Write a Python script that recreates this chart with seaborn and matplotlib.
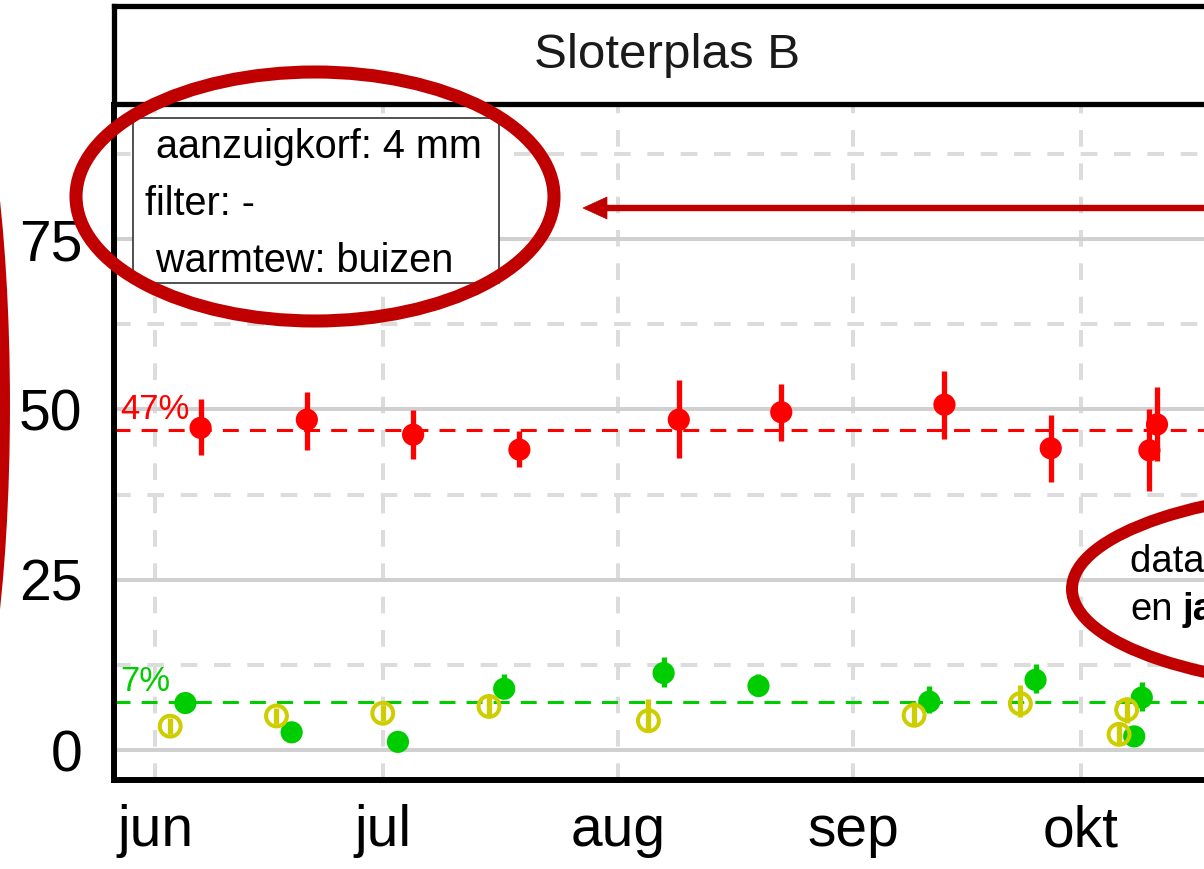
import numpy as np
import pandas as pd
import matplotlib
matplotlib.use("Agg")
import matplotlib.pyplot as plt
import matplotlib.dates as mdates
from matplotlib.ticker import MultipleLocator
from matplotlib.patches import Ellipse, Polygon
from matplotlib.lines import Line2D
from matplotlib.transforms import Affine2D
import seaborn as sns

# ---- data -------------------------------------------------------------
red_dates = ["2019-06-05", "2019-06-19", "2019-07-03", "2019-07-17", "2019-08-07",
             "2019-08-21", "2019-09-11", "2019-09-25", "2019-10-08", "2019-10-09"]
red_values = [47.3, 48.5, 46.3, 44.1, 48.5, 49.6, 50.7, 44.3, 44.0, 47.8]
red_low = [43.3, 44.1, 42.7, 41.5, 42.9, 45.4, 45.6, 39.3, 38.0, 42.4]
red_high = [51.5, 52.6, 49.9, 46.9, 54.3, 53.7, 55.6, 49.2, 50.1, 53.3]

green_dates = red_dates
green_values = [6.9, 2.6, 1.2, 9.0, 11.3, 9.4, 7.1, 10.3, 2.0, 7.7]
green_low = [5.8, 1.4, 0.3, 7.6, 9.2, 8.0, 5.4, 8.4, 1.0, 5.8]
green_high = [8.2, 3.9, 2.2, 11.1, 13.7, 11.1, 9.4, 12.6, 3.0, 10.0]

yellow_dates = ["2019-06-05", "2019-06-19", "2019-07-03", "2019-07-17", "2019-08-07",
                "2019-09-11", "2019-09-25", "2019-10-08", "2019-10-09"]
yellow_values = [3.5, 5.0, 5.4, 6.4, 4.3, 5.1, 6.8, 2.3, 5.9]
yellow_low = [2.3, 3.8, 4.2, 5.0, 3.0, 3.8, 4.8, 1.0, 4.0]
yellow_high = [4.7, 6.2, 6.6, 8.1, 7.5, 7.1, 9.5, 4.0, 7.8]

ref_levels = [47, 7]
ref_labels = ["47%", "7%"]

month_ticks = ["2019-06-01", "2019-07-01", "2019-08-01", "2019-09-01", "2019-10-01"]
month_labels = ["jun", "jul", "aug", "sep", "okt"]
y_ticks = [0, 25, 50, 75]

facet_title = "Sloterplas B"
info_lines = [" aanzuigkorf: 4 mm", "filter: -", " warmtew: buizen"]
note_line1 = "data per monstername"
note_plain = "en"
note_bold = "jaargemiddelde"

# ---- style ------------------------------------------------------------
RED = "#FF0000"
GREEN = "#00CD00"
YELLOW = "#CDCD00"
MARK = "#C00000"
GRID = "#D0D0D0"
series_order = ["geel", "groen", "rood"]
series_colors = {"geel": YELLOW, "groen": GREEN, "rood": RED}

sns.set_theme(style="white")
plt.rcParams["font.family"] = ["Liberation Sans", "DejaVu Sans"]
plt.rcParams["lines.scale_dashes"] = False

# ---- long table with dodge positions ----------------------------------
frames = []
for name, d, v, lo, hi in [
    ("geel", yellow_dates, yellow_values, yellow_low, yellow_high),
    ("groen", green_dates, green_values, green_low, green_high),
    ("rood", red_dates, red_values, red_low, red_high),
]:
    frames.append(pd.DataFrame({"series": name, "date": pd.to_datetime(d),
                                "value": v, "low": lo, "high": hi}))
df = pd.concat(frames, ignore_index=True)

dodge_width = 6.0  # days
offsets = np.zeros(len(df))
for date, grp in df.groupby("date"):
    present = [s for s in series_order if s in set(grp["series"])]
    n = len(present)
    for idx, row in grp.iterrows():
        i = present.index(row["series"])
        offsets[idx] = (i - (n - 1) / 2) * dodge_width / n
df["pos"] = df["date"] + pd.to_timedelta(offsets, unit="D")
df["color"] = df["series"].map(series_colors)

# ---- figure -----------------------------------------------------------
W, H = 1204, 869
fig = plt.figure(figsize=(W / 100, H / 100), dpi=100)
fig.patch.set_facecolor("white")

L, R, T, B = 113.5, 1220.0, 105.0, 780.0
ax = fig.add_axes([L / W, (H - B) / H, (R - L) / W, (B - T) / H])
strip = fig.add_axes([L / W, (H - 104) / H, (R - L) / W, (104 - 6) / H])

ax.set_facecolor("white")
ax.set_axisbelow(True)

# reference levels
for lvl, lab, col in zip(ref_levels, ref_labels, [RED, GREEN]):
    ax.axhline(lvl, color=col, lw=2.2, ls=(0, (11.5, 8.0)), zorder=2)
    ax.text(0.006, lvl + 0.6, lab, transform=ax.get_yaxis_transform(),
            color=col, fontsize=25, ha="left", va="bottom", zorder=3)

# error bars
ax.vlines(mdates.date2num(df["pos"].dt.to_pydatetime()), df["low"], df["high"],
          colors=df["color"], lw=3.8, zorder=3)

# filled points
filled = df[df["series"] != "geel"]
sns.scatterplot(data=filled, x="pos", y="value", hue="series",
                palette={k: series_colors[k] for k in ["groen", "rood"]},
                s=255, linewidth=0, legend=False, ax=ax, zorder=4)
# open points
open_pts = df[df["series"] == "geel"]
sns.scatterplot(data=open_pts, x="pos", y="value", color=YELLOW,
                s=225, legend=False, ax=ax, zorder=4)
coll = ax.collections[-1]
coll.set_facecolor("none")
coll.set_edgecolor(YELLOW)
coll.set_linewidth(2.9)

# axes scales
x0 = pd.Timestamp(month_ticks[0]) - pd.Timedelta(days=5.47)
x1 = pd.Timestamp(month_ticks[-1]) + pd.Timedelta(days=18.3)
ax.set_xlim(x0, x1)
ax.set_ylim(-4.4, 94.7)
ax.set_xticks(pd.to_datetime(month_ticks))
ax.set_xticklabels(month_labels)
ax.set_yticks(y_ticks)
ax.set_yticklabels([str(v) for v in y_ticks])
ax.yaxis.set_minor_locator(MultipleLocator(12.5))
ax.set_xlabel("")
ax.set_ylabel("")

ax.yaxis.grid(True, which="major", color=GRID, lw=2.9, ls="-")
ax.yaxis.grid(True, which="minor", color="#DCDCDC", lw=2.9, ls=(0, (12.0, 12.0)))
ax.xaxis.grid(True, which="major", color="#DCDCDC", lw=2.9, ls=(0, (12.0, 12.0)))

ax.tick_params(axis="both", which="major", length=12.5, width=4.3, color="black",
               labelsize=41, labelcolor="black")
ax.tick_params(axis="y", which="major", pad=10)
ax.tick_params(axis="x", which="major", pad=5)
ax.tick_params(which="minor", length=0)
for side in ["top", "right"]:
    ax.spines[side].set_visible(False)
for side in ["left", "bottom"]:
    ax.spines[side].set_color("black")
    ax.spines[side].set_linewidth(4.3)
    ax.spines[side].set_capstyle("projecting")

# info label
ax.add_patch(plt.Rectangle((0.0175, 0.7363), 0.3310, 0.2444, transform=ax.transAxes,
                           facecolor="white", edgecolor="#222222", lw=1.1, zorder=5))
for i, line in enumerate(info_lines):
    ax.text(0.0285, 0.922 - i * 0.0848, line, transform=ax.transAxes,
            fontsize=28.5, color="black", ha="left", va="baseline", zorder=6)

# facet strip
strip.set_facecolor("white")
strip.set_xticks([])
strip.set_yticks([])
for sp in strip.spines.values():
    sp.set_color("black")
    sp.set_linewidth(3.8)
strip.text(0.5, 0.5, facet_title, transform=strip.transAxes, ha="center",
           va="center", fontsize=35.5, color="#1A1A1A")

# ---- highlight marks in pixel space -----------------------------------
px = Affine2D().scale(1 / W, -1 / H).translate(0, 1) + fig.transFigure

for cx, cy, a, b, lw in [(315, 196.5, 239, 124.5, 9.4),
                         (-46, 405, 50, 340, 8.6),
                         (1372, 589, 300, 100, 8.6)]:
    fig.add_artist(Ellipse((cx, cy), 2 * a, 2 * b, transform=px, fill=False,
                           edgecolor=MARK, lw=lw, zorder=20))

fig.add_artist(Line2D([1230, 600], [208, 208], transform=px, color=MARK,
                      lw=4.6, zorder=20, solid_capstyle="butt"))
fig.add_artist(Polygon([[583, 208], [607, 197], [607, 219]], closed=True,
                       transform=px, facecolor=MARK, edgecolor=MARK, lw=0.5, zorder=20))

fig.text(1130, 572, note_line1, transform=px, fontsize=27.5, color="black",
         ha="left", va="baseline", zorder=21)
t_en = fig.text(1130, 620, note_plain, transform=px, fontsize=27.5, color="black",
                ha="left", va="baseline", zorder=21)
fig.add_artist(plt.Annotation(note_bold, xy=(1, 0), xycoords=t_en,
                              xytext=(7, 0), textcoords="offset points",
                              fontsize=27.5, fontweight="bold", color="black",
                              ha="left", va="bottom", zorder=21))

fig.savefig("out.png", dpi=100, facecolor="white")
